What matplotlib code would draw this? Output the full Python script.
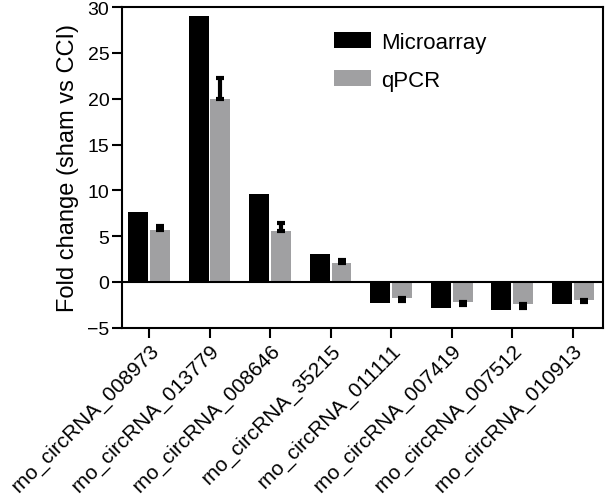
import matplotlib.pyplot as plt
import numpy as np

plt.rcParams['font.family'] = ['Liberation Sans', 'DejaVu Sans']

genes = ["rno_circRNA_008973", "rno_circRNA_013779", "rno_circRNA_008646", "rno_circRNA_35215",
         "rno_circRNA_011111", "rno_circRNA_007419", "rno_circRNA_007512", "rno_circRNA_010913"]
microarray = [7.6, 29.0, 9.6, 3.1, -2.3, -2.8, -3.1, -2.4]
qpcr = [5.7, 20.0, 5.6, 2.1, -1.8, -2.2, -2.4, -2.0]
qpcr_err = [0.4, 2.3, 0.8, 0.3, 0.25, 0.3, 0.45, 0.2]

x = np.arange(len(genes))
w = 0.33

fig, ax = plt.subplots(figsize=(6.06, 5.02), dpi=100)
fig.subplots_adjust(left=0.201, right=0.995, top=0.984, bottom=0.345)

ax.bar(x - 0.18, microarray, w, color='black', label='Microarray')
ax.bar(x + 0.18, qpcr, w, color='#a0a0a2', label='qPCR')

# error bar only on the side away from zero
lo = [0 if v > 0 else e for v, e in zip(qpcr, qpcr_err)]
hi = [e if v > 0 else 0 for v, e in zip(qpcr, qpcr_err)]
ax.errorbar(x + 0.18, qpcr, yerr=[lo, hi], fmt='none', ecolor='black',
            elinewidth=3, capsize=3, capthick=3)

ax.axhline(0, color='black', lw=1.5)
ax.set_xlim(-0.45, 7.5)
ax.set_ylim(-5, 30)
ax.set_yticks([-5, 0, 5, 10, 15, 20, 25, 30])
ax.set_yticklabels(['\u22125', '0', '5', '10', '15', '20', '25', '30'])
ax.set_xticks(x)
ax.set_xticklabels(genes, rotation=45, ha='right', rotation_mode='anchor')
ax.tick_params(axis='y', labelsize=14, width=1.5, length=7, pad=2)
ax.tick_params(axis='x', labelsize=15, width=1.5, length=7, pad=2)
for s in ax.spines.values():
    s.set_linewidth(1.5)
ax.set_ylabel("Fold change (sham vs CCI)", fontsize=17, labelpad=6)

ax.legend(loc='upper right', frameon=False, fontsize=16, handlelength=1.7,
          handleheight=0.75, bbox_to_anchor=(0.8, 0.985), labelspacing=0.75,
          handletextpad=0.45)

plt.savefig("out.png")
